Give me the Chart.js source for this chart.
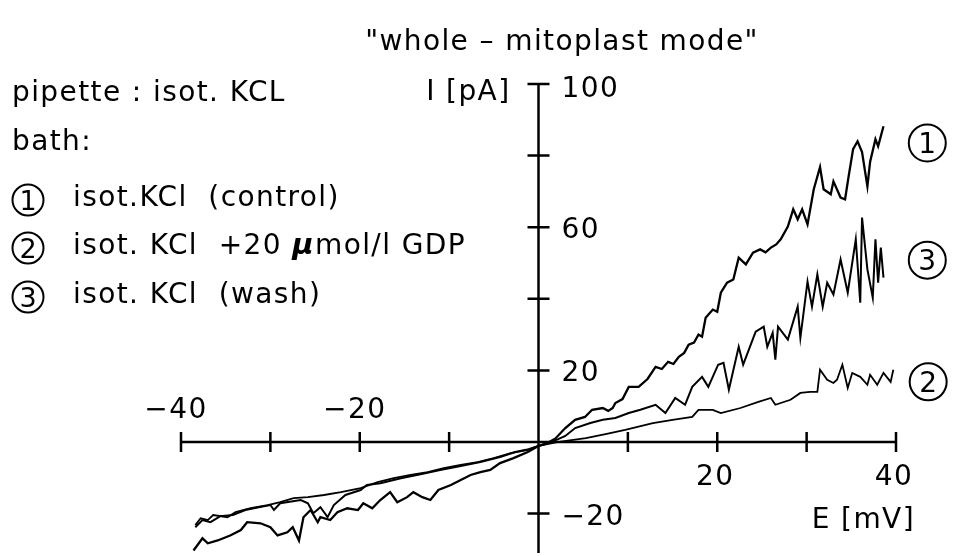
<!DOCTYPE html>
<html><head><meta charset="utf-8">
<script src="https://cdn.jsdelivr.net/npm/chart.js@4"></script>
<style>html,body{margin:0;padding:0;background:#fff;}#wrap{width:955px;height:556px;position:relative;}</style>
</head><body><div id="wrap"><canvas id="c" width="955" height="556"></canvas></div>
<script>
// E [mV], I [pA] pairs
const controlData = [[-38.6,-30.3],[-37.6,-26.9],[-37.0,-28.3],[-35.9,-27.5],[-34.5,-26.1],[-33.3,-24.6],[-32.6,-22.4],[-31.1,-22.7],[-30.0,-23.8],[-29.2,-26.1],[-28.1,-25.2],[-27.5,-23.8],[-26.8,-27.5],[-26.3,-21.0],[-25.5,-19.0],[-24.7,-22.4],[-24.4,-21.0],[-23.3,-21.8],[-22.5,-19.6],[-21.4,-18.5],[-20.2,-19.0],[-19.6,-17.1],[-18.6,-18.5],[-17.7,-16.2],[-16.6,-14.0],[-15.8,-16.8],[-14.7,-15.4],[-14.0,-14.0],[-13.0,-15.4],[-12.1,-16.2],[-11.2,-13.4],[-9.8,-12.0],[-8.7,-10.6],[-7.6,-9.2],[-6.5,-8.4],[-5.4,-7.8],[-4.3,-5.9],[-2.8,-4.5],[-1.2,-2.8],[0,-1.1],[1.0,-0.3],[1.9,1.0],[3.0,3.9],[4.1,6.2],[5.2,7.0],[6.0,9.0],[7.2,9.5],[7.8,8.7],[8.3,9.5],[8.6,10.9],[9.4,12.0],[10.1,15.4],[11.2,15.4],[12.2,17.6],[13.1,21.0],[13.8,20.4],[14.5,22.4],[15.1,21.8],[15.7,23.8],[16.3,24.9],[16.8,27.2],[17.4,27.8],[17.9,30.0],[18.3,29.4],[18.7,34.7],[19.5,37.0],[20.0,36.4],[20.4,41.7],[21.1,44.5],[21.8,45.4],[22.4,51.5],[23.2,49.6],[24.0,52.9],[24.8,53.8],[25.4,53.0],[26.0,54.3],[26.6,55.2],[27.1,56.6],[27.9,60.2],[28.5,65.0],[29.0,62.2],[29.5,65.0],[30.1,60.8],[30.8,70.6],[31.5,76.8],[31.9,70.6],[32.7,69.2],[33.0,72.8],[33.8,68.3],[34.3,67.8],[34.7,74.2],[35.2,81.8],[35.7,84.0],[36.2,81.0],[36.8,71.4],[37.1,78.2],[37.7,84.6],[38.0,82.6],[38.6,88.2]];
const gdpData = [[-38.4,-23.2],[-37.8,-21.3],[-37.0,-21.8],[-36.4,-20.4],[-34.8,-21.0],[-33.9,-19.6],[-32.2,-18.5],[-30.3,-17.6],[-28.9,-16.8],[-27.4,-15.7],[-25.8,-15.4],[-24.0,-14.8],[-22.1,-14.0],[-19.9,-12.9],[-18.0,-11.2],[-16.2,-10.1],[-14.3,-9.2],[-12.4,-8.4],[-10.6,-7.3],[-8.7,-6.4],[-6.8,-5.6],[-5.0,-4.5],[-3.1,-3.1],[-1.2,-2.2],[0,-1.1],[2.1,0],[5.3,1.1],[7.5,2.2],[9.7,3.4],[12.8,5.3],[15.0,6.2],[17.2,7.0],[17.9,9.0],[19.5,9.0],[20.4,8.1],[22.6,9.5],[24.6,11.2],[26.0,12.3],[26.5,10.4],[28.2,11.8],[29.3,13.7],[30.4,14.0],[31.2,14.0],[31.5,20.2],[32.3,17.4],[33.0,16.5],[33.4,17.4],[34.0,21.6],[34.6,15.1],[35.1,19.3],[36.0,18.2],[36.8,16.0],[37.1,18.8],[37.9,16.0],[38.6,19.3],[39.4,16.8],[39.7,20.2]];
const washData = [[-38.4,-23.8],[-37.6,-21.8],[-36.7,-22.4],[-35.6,-20.7],[-34.2,-20.4],[-32.8,-19.0],[-31.3,-18.2],[-30.0,-17.6],[-29.6,-19.0],[-28.9,-17.1],[-26.6,-16.2],[-25.8,-17.1],[-25.2,-19.9],[-24.4,-18.2],[-23.6,-21.0],[-22.9,-17.6],[-21.6,-14.8],[-19.9,-13.4],[-19.2,-12.0],[-17.7,-11.5],[-15.4,-10.1],[-13.2,-9.0],[-11.0,-7.8],[-8.7,-6.7],[-6.5,-5.6],[-4.3,-4.2],[-2.6,-2.8],[-1.1,-2.0],[0,-1.1],[1.2,-0.2],[2.2,0.8],[3.0,1.7],[4.1,3.9],[5.8,5.3],[7.2,6.2],[8.6,6.7],[10.1,8.1],[11.4,9.0],[13.1,10.4],[14.2,8.1],[15.3,12.3],[16.4,10.4],[17.2,15.4],[18.3,18.2],[19.0,15.4],[20.1,21.6],[20.7,22.1],[21.3,14.6],[22.4,26.6],[22.9,21.6],[24.3,30.8],[25.2,32.2],[25.6,26.6],[26.2,30.5],[26.5,23.0],[26.8,32.2],[27.9,28.6],[29.0,37.8],[29.3,29.1],[30.1,44.8],[30.6,37.8],[31.2,46.8],[31.8,37.8],[32.3,44.5],[33.0,41.2],[33.8,51.0],[34.6,41.7],[35.5,56.6],[36.0,38.9],[36.2,62.7],[36.8,48.2],[37.4,40.3],[37.7,56.6],[38.0,44.5],[38.3,54.3],[38.6,45.9]];

const xTicks = [-40,-30,-20,-10,10,20,30,40];
const yTicks = [100,80,60,40,20,-20];
const xTickLabels = [-40,-20,20,40];
const yTickLabels = [100,60,20,-20];
const curveMarks = ['1','2','3'];
// end-of-curve mark positions in data units [E, I]
const markPos = [[43.5,83.5],[43.6,16.8],[43.5,50.8]];

const FONT = '"DejaVu Sans", sans-serif';
const SP = '1.4px';
const FS = 28;

function txt(ctx, s, x, y, size, align, weight) {
  ctx.font = (weight || '') + ' ' + size + 'px ' + FONT;
  ctx.letterSpacing = SP;
  ctx.textAlign = align || 'left';
  ctx.textBaseline = 'alphabetic';
  ctx.fillStyle = '#000';
  ctx.fillText(s, x, y);
}
function segs(ctx, parts, x, y) {
  ctx.textAlign = 'left'; ctx.textBaseline = 'alphabetic'; ctx.fillStyle = '#000';
  ctx.letterSpacing = SP;
  let cx = x;
  for (const p of parts) {
    ctx.font = p[1] + 'px ' + FONT;
    ctx.fillText(p[0], cx, y);
    cx += ctx.measureText(p[0]).width;
  }
}
function circ(ctx, d, cx, cy, r, size) {
  ctx.beginPath(); ctx.arc(cx, cy, r, 0, Math.PI * 2);
  ctx.lineWidth = 2; ctx.strokeStyle = '#000'; ctx.stroke();
  ctx.font = size + 'px ' + FONT; ctx.letterSpacing = '0px';
  ctx.textAlign = 'center'; ctx.textBaseline = 'alphabetic'; ctx.fillStyle = '#000';
  ctx.fillText(d, cx, cy + size * 0.365);
}

const deco = {
  id: 'deco',
  afterDatasetsDraw(chart) {
    const ctx = chart.ctx, xs = chart.scales.x, ys = chart.scales.y;
    const x0 = xs.getPixelForValue(0), y0 = ys.getPixelForValue(0);
    ctx.save();
    ctx.strokeStyle = '#000'; ctx.lineWidth = 2.5; ctx.lineCap = 'butt';
    ctx.beginPath();
    ctx.moveTo(xs.getPixelForValue(-40), y0); ctx.lineTo(xs.getPixelForValue(40), y0);
    ctx.moveTo(x0, ys.getPixelForValue(100)); ctx.lineTo(x0, ys.bottom);
    for (const t of xTicks) { const p = xs.getPixelForValue(t); ctx.moveTo(p, y0 - 10); ctx.lineTo(p, y0 + 10); }
    for (const t of yTicks) { const p = ys.getPixelForValue(t); ctx.moveTo(x0 - 11, p); ctx.lineTo(x0 + 11, p); }
    ctx.stroke();
    // tick labels
    for (const t of xTickLabels) {
      const p = xs.getPixelForValue(t);
      const s = t < 0 ? '\u2212' + Math.abs(t) : String(t);
      if (t < 0) txt(ctx, s, p - 5, y0 - 24, FS, 'center');
      else txt(ctx, s, p - 2, y0 + 43, FS, 'center');
    }
    for (const t of yTickLabels) {
      const p = ys.getPixelForValue(t);
      const s = t < 0 ? '\u2212' + Math.abs(t) : String(t);
      txt(ctx, s, x0 + 23, p + 11 + (t === 100 ? 2 : 0), FS, 'left');
    }
    // axis titles
    txt(ctx, 'I [pA]', x0 - 28, 100, FS, 'right');
    txt(ctx, 'E [mV]', 915, 528, FS, 'right');
    // title and legend text
    txt(ctx, '"whole \u2013 mitoplast mode"', 562, 50, FS, 'center');
    txt(ctx, 'pipette : isot. KCL', 12, 101, FS, 'left');
    txt(ctx, 'bath:', 12, 150, FS, 'left');
    circ(ctx, '1', 28, 200, 15.5, 27);
    circ(ctx, '2', 28, 248, 15.5, 27);
    circ(ctx, '3', 28, 297, 15.5, 27);
    txt(ctx, 'isot.KCl  (control)', 73, 206, FS, 'left');
    segs(ctx, [['isot. KCl  +20 ', String(FS)], ['\u03bc', 'italic bold 29'], ['mol/l GDP', String(FS)]], 73, 254);
    txt(ctx, 'isot. KCl  (wash)', 73, 303, FS, 'left');
    // end marks
    markPos.forEach((m, i) => {
      circ(ctx, curveMarks[i], xs.getPixelForValue(m[0]), ys.getPixelForValue(m[1]), 18.5, 28);
    });
    ctx.restore();
  }
};

const toPts = a => a.map(p => ({x: p[0], y: p[1]}));
new Chart(document.getElementById('c'), {
  type: 'scatter',
  data: {
    datasets: [
      {label: '1 isot.KCl (control)', data: toPts(controlData), showLine: true, borderColor: '#000', borderWidth: 2.3, pointRadius: 0, tension: 0, clip: false},
      {label: '2 isot. KCl +20 \u03bcmol/l GDP', data: toPts(gdpData), showLine: true, borderColor: '#000', borderWidth: 1.8, pointRadius: 0, tension: 0, clip: false},
      {label: '3 isot. KCl (wash)', data: toPts(washData), showLine: true, borderColor: '#000', borderWidth: 2, pointRadius: 0, tension: 0, clip: false}
    ]
  },
  options: {
    responsive: false, animation: false, devicePixelRatio: 1,
    layout: {padding: {left: 181, right: 59, top: 84, bottom: 3}},
    scales: {
      x: {type: 'linear', min: -40, max: 40, display: false},
      y: {type: 'linear', min: -31, max: 100, display: false}
    },
    plugins: {legend: {display: false}, tooltip: {enabled: false}, title: {display: false}}
  },
  plugins: [deco]
});
</script></body></html>
